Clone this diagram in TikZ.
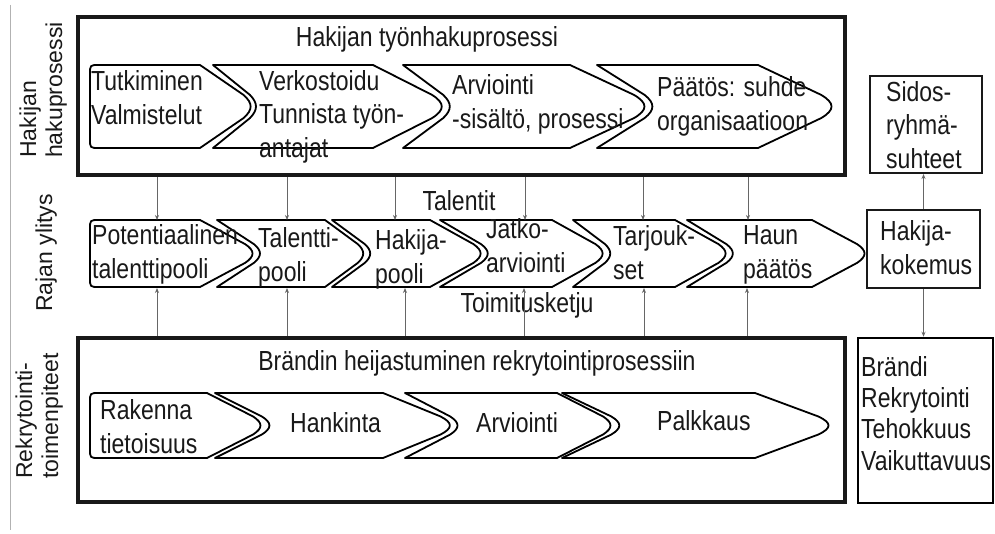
\documentclass[tikz,border=0pt]{standalone}
\usepackage{graphicx}
\usepackage{fontspec}
\setmainfont{Liberation Sans}
\usetikzlibrary{arrows.meta}
\newcommand\tx[2][28]{\scalebox{1}[1.2]{\fontsize{23}{#1}\selectfont\begin{tabular}{@{}l@{}}#2\end{tabular}}}
\newcommand\rtx[1]{{\fontsize{23}{26}\selectfont\begin{tabular}{@{}l@{}}#1\end{tabular}}}
\newcommand\chevR[5]{%
\draw[chevst] ({#1+9},#4) -- (#2,#4) -- ({#3-0.18*(#3-#2)},{#4+0.36*(#5-#4)}) .. controls (#3,{#4+0.46*(#5-#4)}) and (#3,{#4+0.54*(#5-#4)}) .. ({#3-0.18*(#3-#2)},{#4+0.64*(#5-#4)}) -- (#2,#5) -- ({#1+9},#5) .. controls (#1,#5) .. (#1,{#5-9}) -- (#1,{#4+9}) .. controls (#1,#4) .. cycle;}
\newcommand\chevN[6]{%
\draw[chevst] (#1,#5) -- (#3,#5) -- ({#4-0.18*(#4-#3)},{#5+0.36*(#6-#5)}) .. controls (#4,{#5+0.46*(#6-#5)}) and (#4,{#5+0.54*(#6-#5)}) .. ({#4-0.18*(#4-#3)},{#5+0.64*(#6-#5)}) -- (#3,#6) -- (#1,#6) -- ({#2-0.18*(#2-#1)},{#5+0.64*(#6-#5)}) .. controls (#2,{#5+0.54*(#6-#5)}) and (#2,{#5+0.46*(#6-#5)}) .. ({#2-0.18*(#2-#1)},{#5+0.36*(#6-#5)}) -- cycle;}
\tikzset{
  chevst/.style={draw=black, line width=1.8, line join=round},
  txt/.style={inner sep=0, text=black!90},
  bigbox/.style={draw=black!90, line width=3.8, inner sep=0},
  smallbox/.style={draw=black!90, line width=2, inner sep=0},
  arr/.style={draw=black!60, line width=0.8, -{Stealth[length=5pt,width=4pt]}}
}
\begin{document}
\begin{tikzpicture}[x=1pt,y=-1pt]
\useasboundingbox (0,0) rectangle (995,534);
\fill[white] (0,0) rectangle (995,534);
\draw[black!30, line width=0.8] (10,5) -- (10,530);

% boxes
\node[bigbox, minimum width=767, minimum height=158] (topbox) at (461.5,96) {};
\node[bigbox, minimum width=767, minimum height=164] (botbox) at (461.5,420) {};
\node[smallbox, minimum width=112, minimum height=97] (sidos) at (926,124.5) {};
\node[smallbox, minimum width=113, minimum height=78] (hk) at (923.5,249) {};
\node[draw=black, line width=2.5, inner sep=0, minimum width=135, minimum height=165] (brandi) at (925.5,420.5) {};

% row 1
\chevR{90}{200}{253}{65}{148}
\chevN{213}{258}{373}{445}{65}{148}
\chevN{403}{452}{570}{648}{65}{148}
\chevN{597}{655}{758}{835}{65}{148}
% row 2
\chevR{90}{200}{255}{220}{287}
\chevN{217}{262}{325}{365}{220}{287}
\chevN{332}{372}{430}{483}{220}{287}
\chevN{440}{490}{552}{605}{220}{287}
\chevN{573}{612}{675}{728}{220}{287}
\chevN{687}{735}{812}{867}{220}{287}
% row 3
\chevR{90}{207}{263}{393}{458}
\chevN{215}{272}{383}{453}{393}{458}
\chevN{405}{460}{557}{613}{393}{458}
\chevN{562}{622}{755}{832}{393}{458}

% texts
\node[txt] (ttitle) at (427,40) {\tx{Hakijan työnhakuprosessi}};
\node[txt, anchor=west] (t1) at (91,101) {\tx{Tutkiminen\\Valmistelut}};
\node[txt, anchor=west] (t2) at (259,117) {\tx{Verkostoidu\\Tunnista työn-\\antajat}};
\node[txt, anchor=west] (t3) at (452,105) {\tx{Arviointi\\-sisältö, prosessi}};
\node[txt, anchor=west] (t4) at (657,107) {\tx{Päätös: suhde\\organisaatioon}};
\node[txt, anchor=west] (tsidos) at (886,128) {\tx{Sidos-\\ryhmä-\\suhteet}};

\node[txt, anchor=west] (m1) at (92,255) {\tx{Potentiaalinen\\talenttipooli}};
\node[txt, anchor=west] (m2) at (258,258) {\tx{Talentti-\\pooli}};
\node[txt, anchor=west] (m3) at (375,260) {\tx{Hakija-\\pooli}};
\node[txt, anchor=west] (m4) at (486,249) {\tx{Jatko-\\arviointi}};
\node[txt, anchor=west] (m5) at (613,256) {\tx{Tarjouk-\\set}};
\node[txt, anchor=west] (m6) at (743,255) {\tx{Haun\\päätös}};
\node[txt] (talentit) at (459,204) {\tx{Talentit}};
\node[txt] (toimitus) at (527,306) {\tx{Toimitusketju}};
\node[txt, anchor=west] (thk) at (880,251) {\tx{Hakija-\\kokemus}};

\node[txt] (btitle) at (477,364) {\tx{Brändin heijastuminen rekrytointiprosessiin}};
\node[txt, anchor=west] (b1) at (100,430) {\tx{Rakenna\\tietoisuus}};
\node[txt, anchor=west] (b2) at (290,426) {\tx{Hankinta}};
\node[txt, anchor=west] (b3) at (476,426) {\tx{Arviointi}};
\node[txt, anchor=west] (b4) at (657,424) {\tx{Palkkaus}};
\node[txt, anchor=west] (tbr) at (861,417) {\tx[26]{Brändi\\Rekrytointi\\Tehokkuus\\Vaikuttavuus}};

% side labels
\node[txt, rotate=90, anchor=west] (l1) at (44,158) {\rtx{Hakijan\\hakuprosessi}};
\node[txt, rotate=90] (l2) at (47,253) {\rtx{Rajan ylitys}};
\node[txt, rotate=90, anchor=west] (l3) at (40,479) {\rtx{Rekrytointi-\\toimenpiteet}};

% arrow coordinates
\coordinate (d1) at (157,220);
\coordinate (d2) at (287,220);
\coordinate (d3) at (395,220);
\coordinate (d4) at (525,220);
\coordinate (d5) at (643,220);
\coordinate (d6) at (748,220);
\coordinate (u1) at (157,288);
\coordinate (u2) at (287,288);
\coordinate (u3) at (405,288);
\coordinate (u4) at (524,288);
\coordinate (u5) at (644,288);
\coordinate (u6) at (747,288);
\foreach \i in {1,...,6}{
  \draw[arr] (topbox.south -| d\i) -- (d\i);
  \draw[arr] (botbox.north -| u\i) -- (u\i);
}
\draw[arr] (hk.north) -- (hk.north |- sidos.south);
\draw[arr] (hk.south) -- (hk.south |- brandi.north);
\end{tikzpicture}
\end{document}
